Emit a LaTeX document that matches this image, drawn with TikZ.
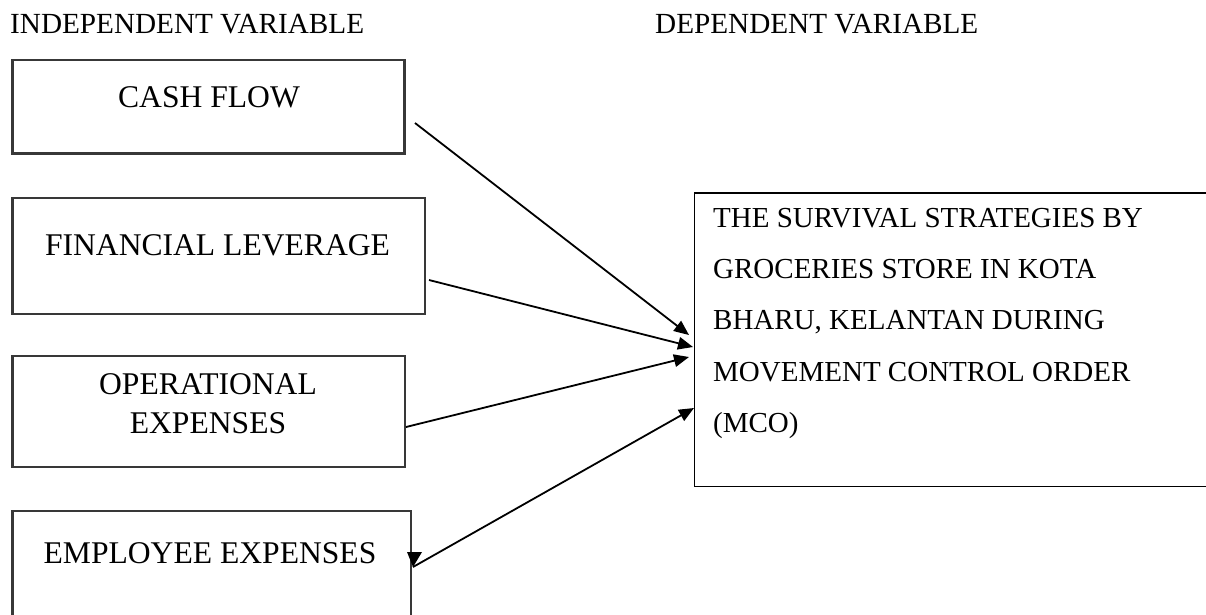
\documentclass[tikz,border=0pt]{standalone}
\usepackage{fontspec}
\setmainfont{Liberation Serif}
\usetikzlibrary{calc,arrows.meta}
\begin{document}
\begin{tikzpicture}[x=1pt,y=-1pt,
  ivbox/.style={draw=black!78, line width=2.2pt, inner sep=0pt, outer sep=0pt, anchor=north west},
  dvbox/.style={draw=black, line width=1.8pt, inner sep=0pt, outer sep=0pt, anchor=north west},
  boxtext/.style={inner sep=0pt, font=\fontsize{31.6}{38.5}\selectfont, align=center},
  dvtext/.style={inner sep=0pt, font=\fontsize{29}{51.2}\selectfont, align=left, anchor=north west},
  heading/.style={inner sep=0pt, anchor=base west, font=\fontsize{29.2}{35}\selectfont},
  link/.style={line width=1.8pt, -{Triangle[length=15pt,width=12.5pt]}}
]
\useasboundingbox (0,0) rectangle (1206,614);

% column headings
\node[heading] (ivh) at (10,33) {INDEPENDENT VARIABLE};
\node[heading] (dvh) at (655,33) {DEPENDENT VARIABLE};

% independent variables
\node[ivbox, minimum width=392pt, minimum height=93.5pt] (cf) at (12.5,60) {};
\node[boxtext, anchor=base] (cf-t) at ($(cf.north)+(0.5,47)$) {CASH FLOW};

\node[ivbox, minimum width=412.5pt, minimum height=116pt] (fl) at (12.5,198) {};
\node[boxtext, anchor=base] (fl-t) at ($(fl.north)+(-1.25,57)$) {FINANCIAL LEVERAGE};

\node[ivbox, minimum width=392.5pt, minimum height=111pt] (op) at (12.5,356) {};
\node[boxtext, anchor=north] (op-t) at ($(op.north)+(-0.75,17.5)$) {OPERATIONAL\\EXPENSES};

\node[ivbox, minimum width=398.5pt, minimum height=114pt] (ee) at (12.5,511) {};
\node[boxtext, anchor=base] (ee-t) at ($(ee.north)+(-1.75,52)$) {EMPLOYEE EXPENSES};

% dependent variable
\node[dvbox, minimum width=525.5pt, minimum height=293.5pt] (dv) at (694.5,193) {};
\node[dvtext] (dv-t) at ($(dv.north west)+(18.5,15)$)
  {THE SURVIVAL STRATEGIES BY\\GROCERIES STORE IN KOTA\\BHARU, KELANTAN DURING\\MOVEMENT CONTROL ORDER\\(MCO)};

% relationships
\draw[link] ($(cf.east)+(10.5,16.25)$) -- ($(dv.north west)+(-5.5,142)$);
\draw[link] ($(fl.east)+(4,24)$) -- ($(dv.north west)+(-1.5,154)$);
\draw[link] ($(op.east)+(1,15.5)$) -- ($(dv.north west)+(-5.5,164)$);
\coordinate (ee-tip) at ($(ee.east)+(2,-1)$);
\draw[link] (ee-tip) -- ($(dv.north west)+(-0.5,215)$);
\fill (ee-tip) -- ++(-6,-15) -- ++(15,0) -- cycle;
\end{tikzpicture}
\end{document}
